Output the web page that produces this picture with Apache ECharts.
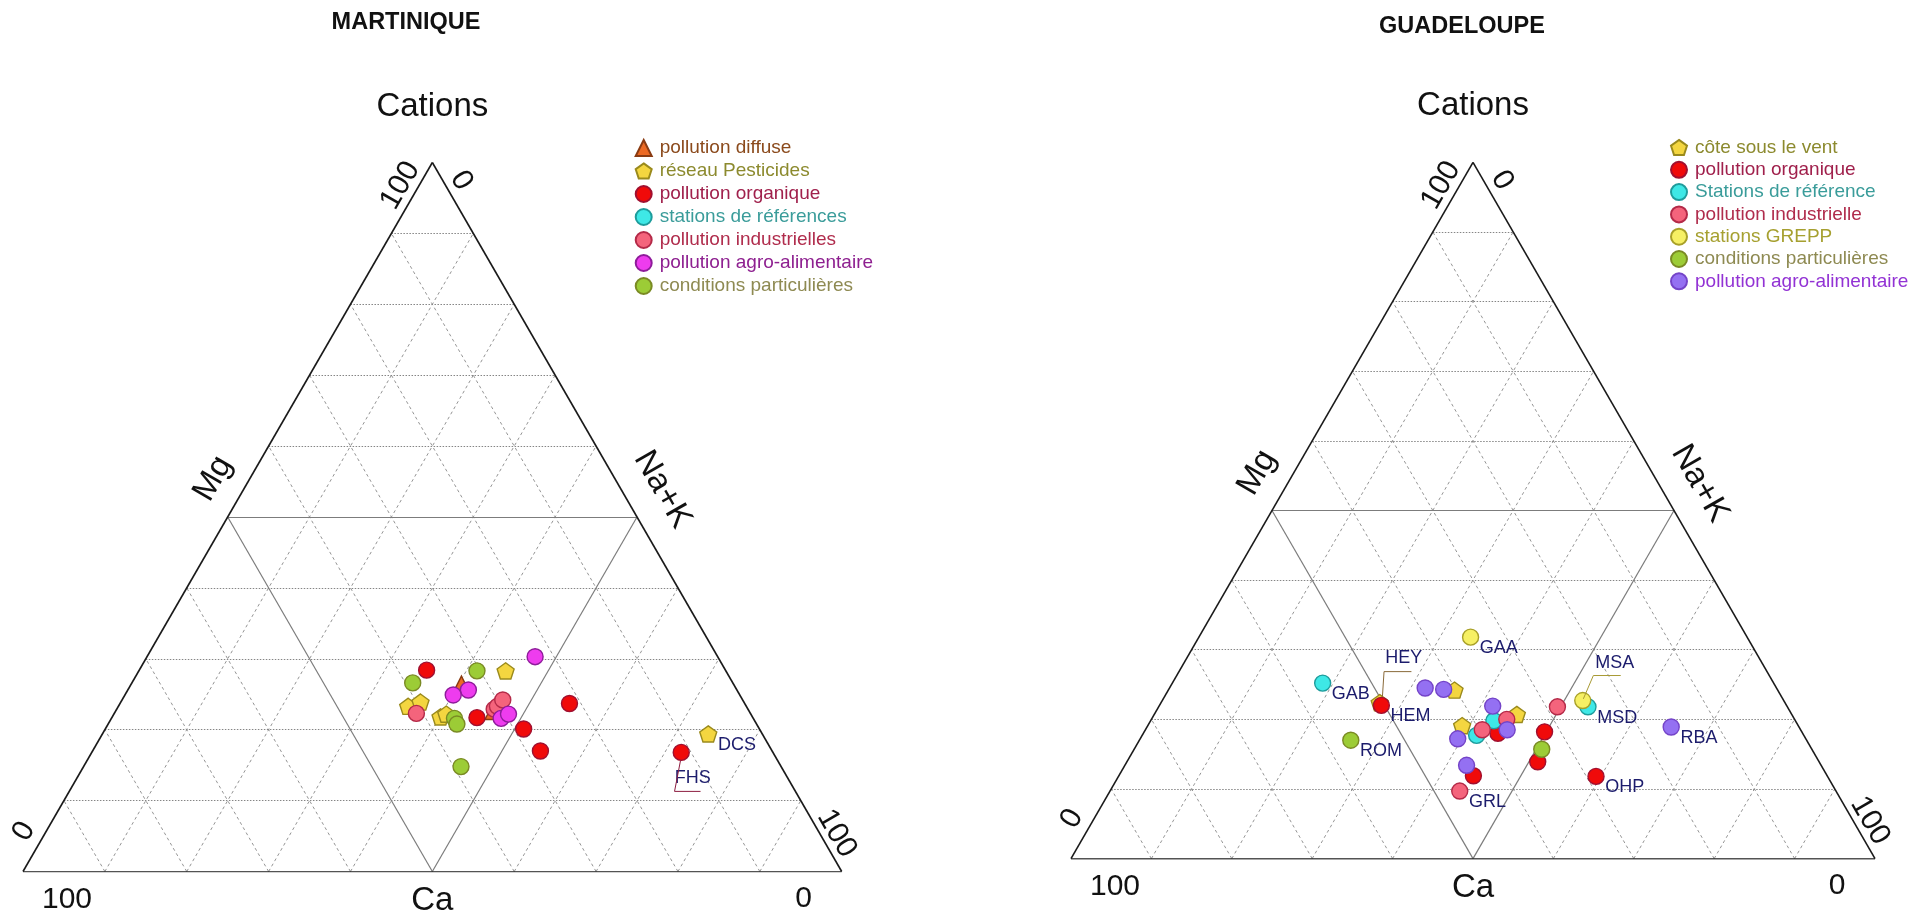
<!DOCTYPE html>
<html>
<head>
<meta charset="utf-8">
<script src="https://cdn.jsdelivr.net/npm/echarts@6/dist/echarts.min.js"></script>
<style>html,body{margin:0;padding:0;background:#fff}#chart{width:1910px;height:916px}</style>
</head>
<body>
<div id="chart"></div>
<script>
// ---------- data (ternary values in %: [Ca, Mg, Na+K, optional station code]) ----------
const gridSteps = [10, 20, 30, 40, 50, 60, 70, 80, 90];
const cornerTicks = ['0', '100'];
const axisNames = ['Cations', 'Mg', 'Na+K', 'Ca'];
const titles = ['MARTINIQUE', 'GUADELOUPE'];

// MARTINIQUE
const mNames = ['pollution diffuse', 'réseau Pesticides', 'pollution organique', 'stations de références',
  'pollution industrielles', 'pollution agro-alimentaire', 'conditions particulières'];
const mDiffuse = [[33.2, 26.5, 40.3], [31.4, 22.5, 46.1]];
const mPesticides = [[26.9, 28.3, 44.8], [41.3, 23.3, 35.4], [39.5, 23.9, 36.6], [38.1, 21.8, 40.1], [37.2, 22.2, 40.6], [6.6, 19.4, 74.0, 'DCS']];
const mOrganique = [[36.5, 28.4, 35.1], [33.7, 21.7, 44.6], [21.4, 23.7, 54.9], [28.8, 20.1, 51.1], [28.3, 17.0, 54.7], [11.2, 16.8, 72.0, 'FHS']];
const mReferences = [];
const mIndustrielles = [[40.8, 22.3, 36.9], [31.0, 22.9, 46.1], [30.4, 23.3, 46.3], [29.3, 24.2, 46.5]];
const mAgro = [[22.3, 30.3, 47.4], [32.8, 25.6, 41.6], [35.0, 24.9, 40.1], [30.8, 21.6, 47.6], [29.6, 22.2, 48.2]];
const mConditions = [[30.4, 28.3, 41.3], [39.1, 26.6, 34.3], [36.5, 21.6, 41.9], [36.6, 20.8, 42.6], [39.1, 14.8, 46.1]];

// GUADELOUPE
const gNames = ['côte sous le vent', 'pollution organique', 'Stations de référence', 'pollution industrielle',
  'stations GREPP', 'conditions particulières', 'pollution agro-alimentaire'];
const gCote = [[50.4, 22.4, 27.2, 'HEY'], [40.2, 24.2, 35.6], [34.2, 20.7, 45.1], [41.8, 19.1, 39.1]];
const gOrganique = [[50.4, 22.0, 27.6, 'HEM'], [37.9, 18.0, 44.1], [32.0, 18.2, 49.8], [35.0, 13.9, 51.1], [44.0, 11.9, 44.1], [28.8, 11.8, 59.4, 'OHP']];
const gReference = [[56.1, 25.2, 18.7, 'GAB'], [37.5, 19.8, 42.7], [40.7, 17.7, 41.6], [24.8, 21.8, 53.4, 'MSD']];
const gIndustrielle = [[35.8, 20.0, 44.2], [39.6, 18.5, 41.9], [28.6, 21.8, 49.6], [46.8, 9.7, 43.5, 'GRL']];
const gGrepp = [[34.4, 31.8, 33.8, 'GAA'], [25.0, 22.7, 52.3, 'MSA']];
const gConditions = [[56.7, 17.0, 26.3, 'ROM'], [33.6, 15.7, 50.7]];
const gAgro = [[43.7, 24.5, 31.8], [41.5, 24.3, 34.2], [36.6, 21.9, 41.5], [43.3, 17.2, 39.5], [36.5, 18.5, 45.0], [44.1, 13.4, 42.5], [15.9, 18.9, 65.2, 'RBA']];

// ---------- styles / layout ----------
const FONT = '"Liberation Sans", Arial, Helvetica, sans-serif';
const SQ = Math.sqrt(3) / 2;
const PENT = 'path://M0,-10 L9.51,-3.09 L5.88,8.09 L-5.88,8.09 L-9.51,-3.09 Z';
const ST = {
  diffuse:   {symbol: 'triangle', size: 15, color: '#ec6a24', border: '#8a3b12', text: '#8b4a1c'},
  pent:      {symbol: PENT, size: 17, color: '#f4d640', border: '#9a8a1c', text: '#8c8a2e'},
  organique: {symbol: 'circle', size: 16, color: '#f00a0a', border: '#a01030', text: '#a0204c'},
  reference: {symbol: 'circle', size: 16, color: '#3ee8e6', border: '#1e9c9c', text: '#3a9c9a'},
  indus:     {symbol: 'circle', size: 16, color: '#f4647c', border: '#b42a48', text: '#b02c4c'},
  agroM:     {symbol: 'circle', size: 16, color: '#ee3cee', border: '#8e1c9a', text: '#8e2090'},
  cond:      {symbol: 'circle', size: 16, color: '#9ccc36', border: '#7a8a24', text: '#8e8a52'},
  grepp:     {symbol: 'circle', size: 16, color: '#f6f064', border: '#a8a028', text: '#a6a030'},
  agroG:     {symbol: 'circle', size: 16, color: '#9470f2', border: '#7444c8', text: '#9232d4'}
};
const leaderLabels = {
  HEY: {offset: [24, -45], path: [[2.7, -6], [4.3, -31], [31.7, -31]], color: '#8a6a3a'},
  MSA: {offset: [32, -37], path: [[0.6, -1.7], [10.6, -25], [38, -25]], color: '#a89a34'},
  FHS: {offset: [11.5, 25.6], path: [[-0.7, 8], [-6.7, 39], [19.3, 39]], color: '#8c1c40'}
};

const panels = [
  {prefix: 'M:', grid: {left: 23, top: 162.5, width: 818.7, height: 818.7 * SQ},
   legend: {left: 629.7, top: 133.5, gap: 4.0, pad: 3}, title: {x: 406, y: 23},
   groups: [[mNames[0], mDiffuse, ST.diffuse], [mNames[1], mPesticides, ST.pent], [mNames[2], mOrganique, ST.organique],
            [mNames[3], mReferences, ST.reference], [mNames[4], mIndustrielles, ST.indus], [mNames[5], mAgro, ST.agroM],
            [mNames[6], mConditions, ST.cond]]},
  {prefix: 'G:', grid: {left: 1071, top: 162.3, width: 804, height: 804 * SQ},
   legend: {left: 1665, top: 133, gap: 3.3, pad: 3}, title: {x: 1462, y: 27},
   groups: [[gNames[0], gCote, ST.pent], [gNames[1], gOrganique, ST.organique], [gNames[2], gReference, ST.reference],
            [gNames[3], gIndustrielle, ST.indus], [gNames[4], gGrepp, ST.grepp], [gNames[5], gConditions, ST.cond],
            [gNames[6], gAgro, ST.agroG]]}
];

// ternary -> cartesian data coordinates (x in 0..100, y in 0..100*sin60)
function tern(p) { return [p[2] + p[1] / 2, p[1] * SQ]; }

const grids = [], xAxes = [], yAxes = [], series = [], legends = [];
panels.forEach((P, gi) => {
  grids.push(Object.assign({containLabel: false}, P.grid));
  xAxes.push({type: 'value', gridIndex: gi, min: 0, max: 100, show: false});
  yAxes.push({type: 'value', gridIndex: gi, min: 0, max: 100 * SQ, show: false});
  const horiz = [], diag = [], inner = [];
  gridSteps.forEach(t => {
    const segs = [
      [[t / 2, t * SQ], [100 - t / 2, t * SQ]],
      [[t, 0], [t + (100 - t) / 2, (100 - t) * SQ]],
      [[100 - t, 0], [(100 - t) / 2, (100 - t) * SQ]]
    ];
    if (t === 50) segs.forEach(s => inner.push({coords: s}));
    else { horiz.push({coords: segs[0]}); diag.push({coords: segs[1]}, {coords: segs[2]}); }
  });
  const common = {type: 'lines', coordinateSystem: 'cartesian2d', xAxisIndex: gi, yAxisIndex: gi, silent: true, polyline: false, z: 1};
  series.push(Object.assign({}, common, {data: diag, lineStyle: {color: '#959595', width: 1, type: [3, 3], opacity: 1}}));
  series.push(Object.assign({}, common, {data: horiz, lineStyle: {color: '#858585', width: 1, type: [1.5, 1.5], opacity: 1}}));
  series.push(Object.assign({}, common, {data: inner, lineStyle: {color: '#7c7c7c', width: 1.2, type: 'solid', opacity: 1}}));
  series.push(Object.assign({}, common, {data: [
    {coords: [[0, 0], [100, 0]]}, {coords: [[100, 0], [50, 100 * SQ]]}, {coords: [[50, 100 * SQ], [0, 0]]}],
    lineStyle: {color: '#1a1a1a', width: 1.6, type: 'solid', opacity: 1}}));

  const legendData = [];
  P.groups.forEach(([name, arr, st]) => {
    const id = P.prefix + name;
    series.push({
      type: 'scatter', name: id, xAxisIndex: gi, yAxisIndex: gi, z: 5,
      symbol: st.symbol, symbolSize: st.size, symbolKeepAspect: true,
      itemStyle: {color: st.color, borderColor: st.border, borderWidth: 1.4, opacity: 1},
      label: {show: true, position: 'right', distance: 0.5, offset: [0, 11], color: '#1c1c6c', fontSize: 18, fontFamily: FONT,
              formatter: p => (p.data && p.data.code) || ''},
      emphasis: {disabled: true},
      data: arr.map(p => {
        const item = {value: tern(p)};
        if (p[3]) {
          item.code = p[3];
          const L = leaderLabels[p[3]];
          if (L) item.label = {position: 'inside', offset: L.offset, distance: 0};
        }
        return item;
      })
    });
    legendData.push({name: id, icon: st.symbol, textStyle: {color: st.text}});
  });
  legends.push({
    orient: 'vertical', left: P.legend.left, top: P.legend.top, itemWidth: 16, itemHeight: 16, itemGap: P.legend.gap,
    selectedMode: false, data: legendData, formatter: n => n.slice(2),
    textStyle: {fontSize: 19, fontFamily: FONT, lineHeight: 19, padding: [0, 0, 0, P.legend.pad]}
  });
});

const chart = echarts.init(document.getElementById('chart'), null, {renderer: 'canvas'});
chart.setOption({animation: false, backgroundColor: '#ffffff', grid: grids, xAxis: xAxes, yAxis: yAxes, legend: legends, series: series});

// ---------- annotation texts placed from data coordinates ----------
const apex = [50, 100 * SQ], bl = [0, 0], br = [100, 0], bm = [50, 0], le = [27.5, 55 * SQ], re = [72.5, 55 * SQ];
const R60 = Math.PI / 3;
const textSpecs = [
  {text: axisNames[0], at: apex, d: [0, -56], size: 33, rot: 0},
  {text: axisNames[3], at: bm, d: [0, 29], size: 33, rot: 0},
  {text: axisNames[1], at: le, d: [-35, -3], size: 33, rot: R60},
  {text: axisNames[2], at: re, d: [46, 8], size: 33, rot: -R60},
  {text: cornerTicks[1], at: bl, d: [44, 28], size: 30, rot: 0},
  {text: cornerTicks[0], at: br, d: [-38, 27], size: 30, rot: 0},
  {text: cornerTicks[0], at: bl, d: [1, -40], size: 30, rot: R60},
  {text: cornerTicks[1], at: br, d: [-5, -38], size: 30, rot: -R60},
  {text: cornerTicks[1], at: apex, d: [-32, 23], size: 30, rot: R60},
  {text: cornerTicks[0], at: apex, d: [29, 18], size: 30, rot: -R60}
];
const graphics = [];
panels.forEach((P, gi) => {
  graphics.push({type: 'text', x: P.title.x, y: P.title.y, z: 10,
    style: {text: titles[gi], fontSize: 23.5, fontWeight: 'bold', fontFamily: FONT, fill: '#111', align: 'center', verticalAlign: 'middle'}});
  textSpecs.forEach(s => {
    const px = chart.convertToPixel({gridIndex: gi}, s.at);
    graphics.push({type: 'text', x: px[0] + s.d[0], y: px[1] + s.d[1], rotation: s.rot, z: 10,
      style: {text: s.text, fontSize: s.size, fontFamily: FONT, fill: '#111', align: 'center', verticalAlign: 'middle'}});
  });
  P.groups.forEach(([name, arr]) => {
    arr.forEach(p => {
      const L = p[3] && leaderLabels[p[3]];
      if (!L) return;
      const c = chart.convertToPixel({gridIndex: gi}, tern(p));
      graphics.push({type: 'polyline', z: 10, silent: true,
        shape: {points: L.path.map(o => [c[0] + o[0], c[1] + o[1]])},
        style: {stroke: L.color, lineWidth: 1, fill: null}});
    });
  });
});
chart.setOption({graphic: graphics});
</script>
</body>
</html>
